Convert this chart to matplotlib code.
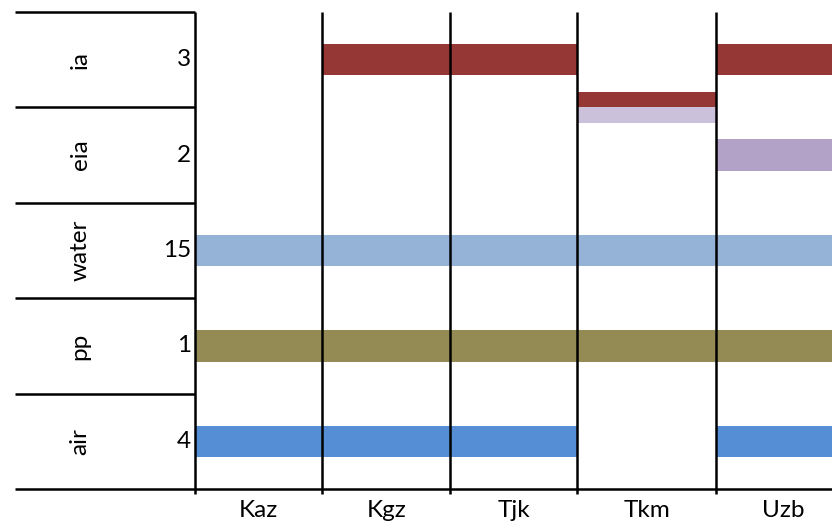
import matplotlib
matplotlib.use("Agg")
import matplotlib.pyplot as plt

# ---- data ----
rows = ["air", "pp", "water", "eia", "ia"]          # bottom to top
row_counts = [4, 1, 15, 2, 3]
countries = ["Kaz", "Kgz", "Tjk", "Tkm", "Uzb"]
# presence of each row's bar per country (1 = bar drawn)
presence = {
    "air":   [1, 1, 1, 0, 1],
    "pp":    [1, 1, 1, 1, 1],
    "water": [1, 1, 1, 1, 1],
    "eia":   [0, 0, 0, 0, 1],
    "ia":    [0, 1, 1, 0, 1],
}
# Tkm shows split half-bars straddling the ia / eia boundary
split_country = "Tkm"
split_rows = ["ia", "eia"]

colors = {
    "air": "#558ed5",
    "pp": "#948a54",
    "water": "#95b3d7",
    "eia": "#b3a2c7",
    "ia": "#953735",
}
split_colors = {"ia": "#953735", "eia": "#ccc1da"}

# ---- layout ----
col_edges = [0, 1, 2, 3, 4.09, 5.13]
bar_h = 0.33
fig = plt.figure(figsize=(8.32, 5.25), dpi=100)
ax = fig.add_axes([0, 0, 1, 1])
ax.set_xlim(-1.529, 4.996)
ax.set_ylim(-0.377, 5.126)
ax.axis("off")

font = ["Lato", "DejaVu Sans"]
fs = 17.5

for r, name in enumerate(rows):
    yc = r + 0.5
    for c, cname in enumerate(countries):
        if presence[name][c]:
            ax.barh(yc, col_edges[c + 1] - col_edges[c], left=col_edges[c],
                    height=bar_h, color=colors[name], edgecolor="none", zorder=1)
    # row label and count
    ax.text(-0.9, yc, name, rotation=90, ha="center", va="center",
            fontsize=fs, family=font)
    ax.text(-0.03, yc, str(row_counts[r]), ha="right", va="center",
            fontsize=fs, family=font)

# split bars for Tkm
c = countries.index(split_country)
half = bar_h / 2
ia_idx = rows.index("ia")
ax.barh(ia_idx + half / 2, col_edges[c + 1] - col_edges[c], left=col_edges[c],
        height=half, color=split_colors["ia"], edgecolor="none", zorder=1)
ax.barh(ia_idx - half / 2, col_edges[c + 1] - col_edges[c], left=col_edges[c],
        height=half, color=split_colors["eia"], edgecolor="none", zorder=1)

# grid lines
for r in range(len(rows) + 1):
    ax.plot([-1.41, 0], [r, r], color="black", lw=1.8, zorder=3, solid_capstyle="butt")
ax.plot([0, 5.2], [0, 0], color="black", lw=1.8, zorder=3, solid_capstyle="butt")
for e in col_edges[:-1]:
    ax.plot([e, e], [-0.05, 5], color="black", lw=1.8, zorder=3, solid_capstyle="butt")

# column labels
for c, cname in enumerate(countries):
    ax.text((col_edges[c] + col_edges[c + 1]) / 2, -0.23, cname,
            ha="center", va="center", fontsize=fs, family=font)

fig.savefig("out.png", dpi=100)
